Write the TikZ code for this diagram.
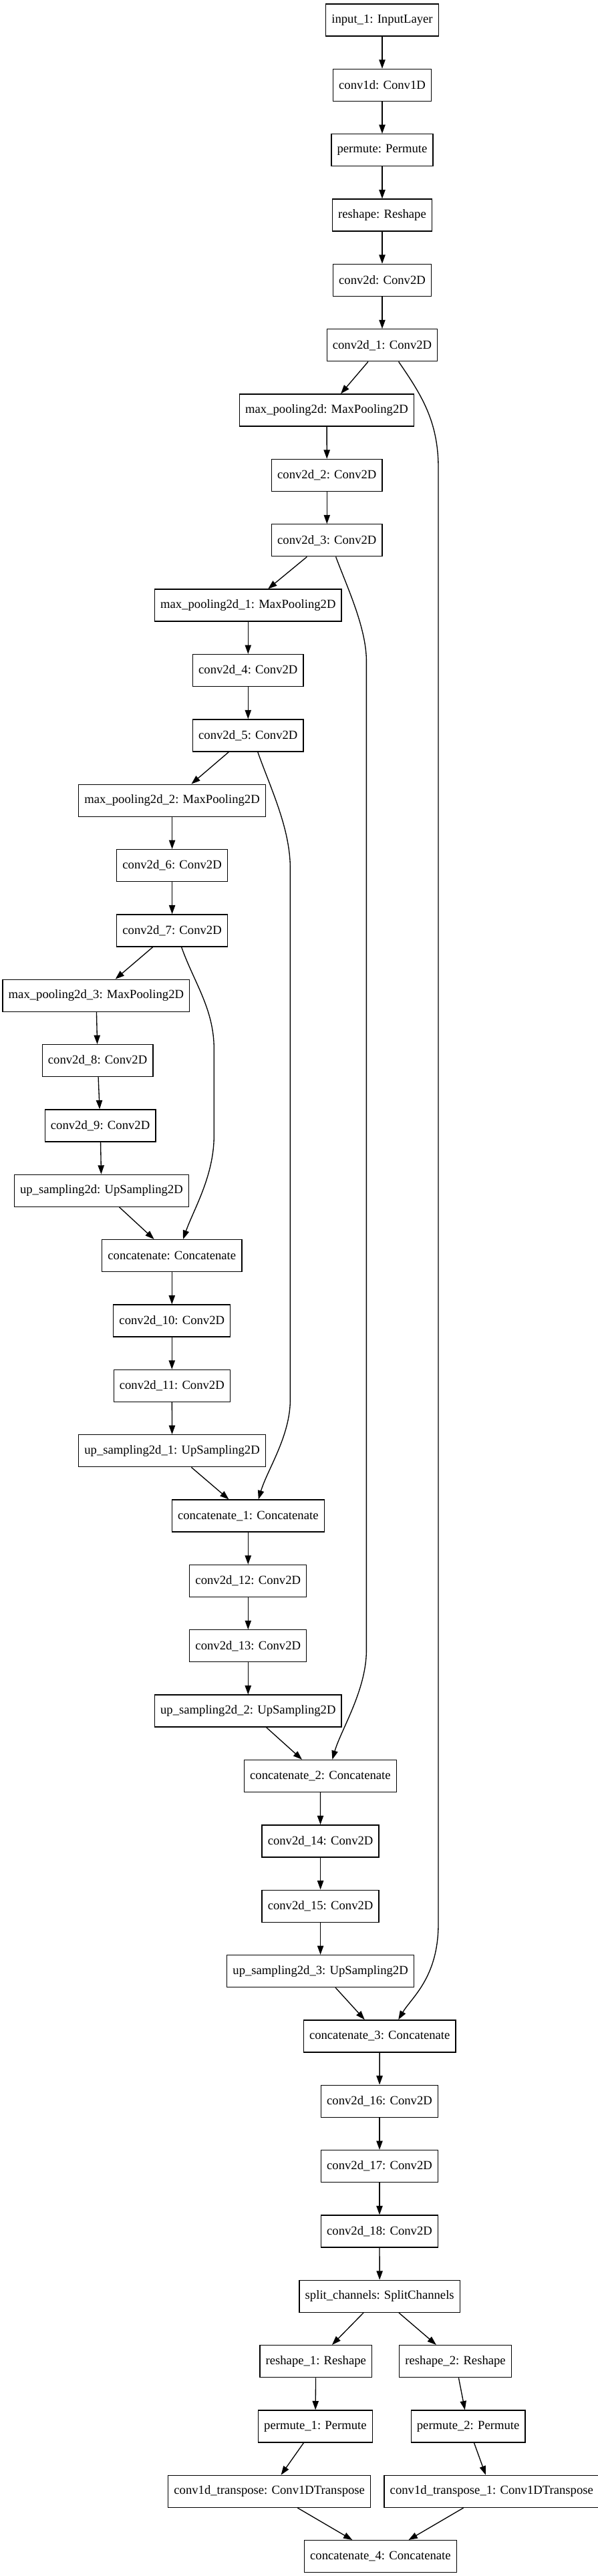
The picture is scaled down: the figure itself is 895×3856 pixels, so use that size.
\documentclass[tikz,border=0pt]{standalone}
\usepackage{fontspec}
\setmainfont{Liberation Serif}
\usepackage{tikz}
\usetikzlibrary{arrows.meta,calc}

\begin{document}
\begin{tikzpicture}[x=0.75pt,y=-0.75pt,
        layer/.style = {draw, line width=1pt, rectangle, minimum height=36pt,
                        inner xsep=6.5pt, inner ysep=0pt, font=\fontsize{14}{16}\selectfont},
        every edge/.style = {draw, line width=1pt, -{Triangle[length=10pt,width=7pt]}},
        skip/.style = {line width=1pt, -{Triangle[length=10pt,width=7pt]}}
        ]
    \useasboundingbox (0,0) rectangle (895,3856);

    % encoder
    \node[layer] (in)    at (572.0,30.00)   {input\_1: InputLayer};
    \node[layer] (c1d)   at (572.0,127.35)  {conv1d: Conv1D};
    \node[layer] (perm)  at (572.0,224.70)  {permute: Permute};
    \node[layer] (resh)  at (572.0,322.05)  {reshape: Reshape};
    \node[layer] (c0)    at (572.0,419.40)  {conv2d: Conv2D};
    \node[layer] (c1)    at (572.0,516.75)  {conv2d\_1: Conv2D};
    \node[layer] (mp0)   at (489.0,614.10)  {max\_pooling2d: MaxPooling2D};
    \node[layer] (c2)    at (489.3,711.45)  {conv2d\_2: Conv2D};
    \node[layer] (c3)    at (489.3,808.80)  {conv2d\_3: Conv2D};
    \node[layer] (mp1)   at (371.3,906.15)  {max\_pooling2d\_1: MaxPooling2D};
    \node[layer] (c4)    at (371.3,1003.50) {conv2d\_4: Conv2D};
    \node[layer] (c5)    at (371.3,1100.85) {conv2d\_5: Conv2D};
    \node[layer] (mp2)   at (257.6,1198.20) {max\_pooling2d\_2: MaxPooling2D};
    \node[layer] (c6)    at (257.6,1295.55) {conv2d\_6: Conv2D};
    \node[layer] (c7)    at (257.6,1392.90) {conv2d\_7: Conv2D};
    \node[layer] (mp3)   at (143.9,1490.25) {max\_pooling2d\_3: MaxPooling2D};
    \node[layer] (c8)    at (146.1,1587.60) {conv2d\_8: Conv2D};
    \node[layer] (c9)    at (150.1,1684.95) {conv2d\_9: Conv2D};

    % decoder
    \node[layer] (up0)   at (151.9,1782.30) {up\_sampling2d: UpSampling2D};
    \node[layer] (cat0)  at (257.3,1879.65) {concatenate: Concatenate};
    \node[layer] (c10)   at (257.3,1977.00) {conv2d\_10: Conv2D};
    \node[layer] (c11)   at (257.3,2074.35) {conv2d\_11: Conv2D};
    \node[layer] (up1)   at (257.6,2171.70) {up\_sampling2d\_1: UpSampling2D};
    \node[layer] (cat1)  at (371.3,2269.05) {concatenate\_1: Concatenate};
    \node[layer] (c12)   at (371.3,2366.40) {conv2d\_12: Conv2D};
    \node[layer] (c13)   at (371.3,2463.75) {conv2d\_13: Conv2D};
    \node[layer] (up2)   at (371.3,2561.10) {up\_sampling2d\_2: UpSampling2D};
    \node[layer] (cat2)  at (479.4,2658.45) {concatenate\_2: Concatenate};
    \node[layer] (c14)   at (479.6,2755.80) {conv2d\_14: Conv2D};
    \node[layer] (c15)   at (479.6,2853.15) {conv2d\_15: Conv2D};
    \node[layer] (up3)   at (479.6,2950.50) {up\_sampling2d\_3: UpSampling2D};
    \node[layer] (cat3)  at (568.2,3047.85) {concatenate\_3: Concatenate};
    \node[layer] (c16)   at (568.0,3145.20) {conv2d\_16: Conv2D};
    \node[layer] (c17)   at (568.0,3242.55) {conv2d\_17: Conv2D};
    \node[layer] (c18)   at (568.0,3339.90) {conv2d\_18: Conv2D};

    % output branches
    \node[layer] (split) at (568.2,3437.25) {split\_channels: SplitChannels};
    \node[layer] (resh1) at (472.8,3534.60) {reshape\_1: Reshape};
    \node[layer] (resh2) at (681.6,3534.60) {reshape\_2: Reshape};
    \node[layer] (perm1) at (471.9,3631.95) {permute\_1: Permute};
    \node[layer] (perm2) at (700.6,3631.95) {permute\_2: Permute};
    \node[layer] (tr0)   at (403.2,3729.30) {conv1d\_transpose: Conv1DTranspose};
    \node[layer] (tr1)   at (735.8,3729.30) {conv1d\_transpose\_1: Conv1DTranspose};
    \node[layer] (cat4)  at (569.4,3826.65) {concatenate\_4: Concatenate};

    \draw   (in) edge (c1d)     (c1d) edge (perm)   (perm) edge (resh)
            (resh) edge (c0)    (c0) edge (c1)      (c1) edge (mp0)
            (mp0) edge (c2)     (c2) edge (c3)      (c3) edge (mp1)
            (mp1) edge (c4)     (c4) edge (c5)      (c5) edge (mp2)
            (mp2) edge (c6)     (c6) edge (c7)      (c7) edge (mp3)
            (mp3) edge (c8)     (c8) edge (c9)      (c9) edge (up0)
            (up0) edge (cat0)   (cat0) edge (c10)   (c10) edge (c11)
            (c11) edge (up1)    (up1) edge (cat1)   (cat1) edge (c12)
            (c12) edge (c13)    (c13) edge (up2)    (up2) edge (cat2)
            (cat2) edge (c14)   (c14) edge (c15)    (c15) edge (up3)
            (up3) edge (cat3)   (cat3) edge (c16)   (c16) edge (c17)
            (c17) edge (c18)    (c18) edge (split)  (split) edge (resh1)
            (split) edge (resh2) (resh1) edge (perm1) (resh2) edge (perm2)
            (perm1) edge (tr0)  (perm2) edge (tr1)  (tr0) edge (cat4)
            (tr1) edge (cat4);

    % skip connections
    \draw[skip] ($(c1.south)+(24.6,0)$) .. controls (630,590) and (656,630) .. (656,700)
        -- (656,2880) .. controls (656,2960) and (616,2990) .. ($(cat3.north)+(28,0)$);
    \draw[skip] ($(c3.south)+(13.3,0)$) .. controls (520,880) and (548.4,940) .. (548.4,990)
        -- (548.4,2470) .. controls (548.4,2530) and (510,2590) .. ($(cat2.north)+(18,0)$);
    \draw[skip] ($(c5.south)+(14.4,0)$) .. controls (405,1180) and (434.4,1240) .. (434.4,1300)
        -- (434.4,2095) .. controls (434.4,2150) and (400,2200) .. ($(cat1.north)+(15.5,0)$);
    \draw[skip] ($(c7.south)+(14,0)$) .. controls (290,1470) and (320.3,1510) .. (320.3,1570)
        -- (320.3,1700) .. controls (320.3,1760) and (290,1810) .. ($(cat0.north)+(16.7,0)$);
\end{tikzpicture}
\end{document}
